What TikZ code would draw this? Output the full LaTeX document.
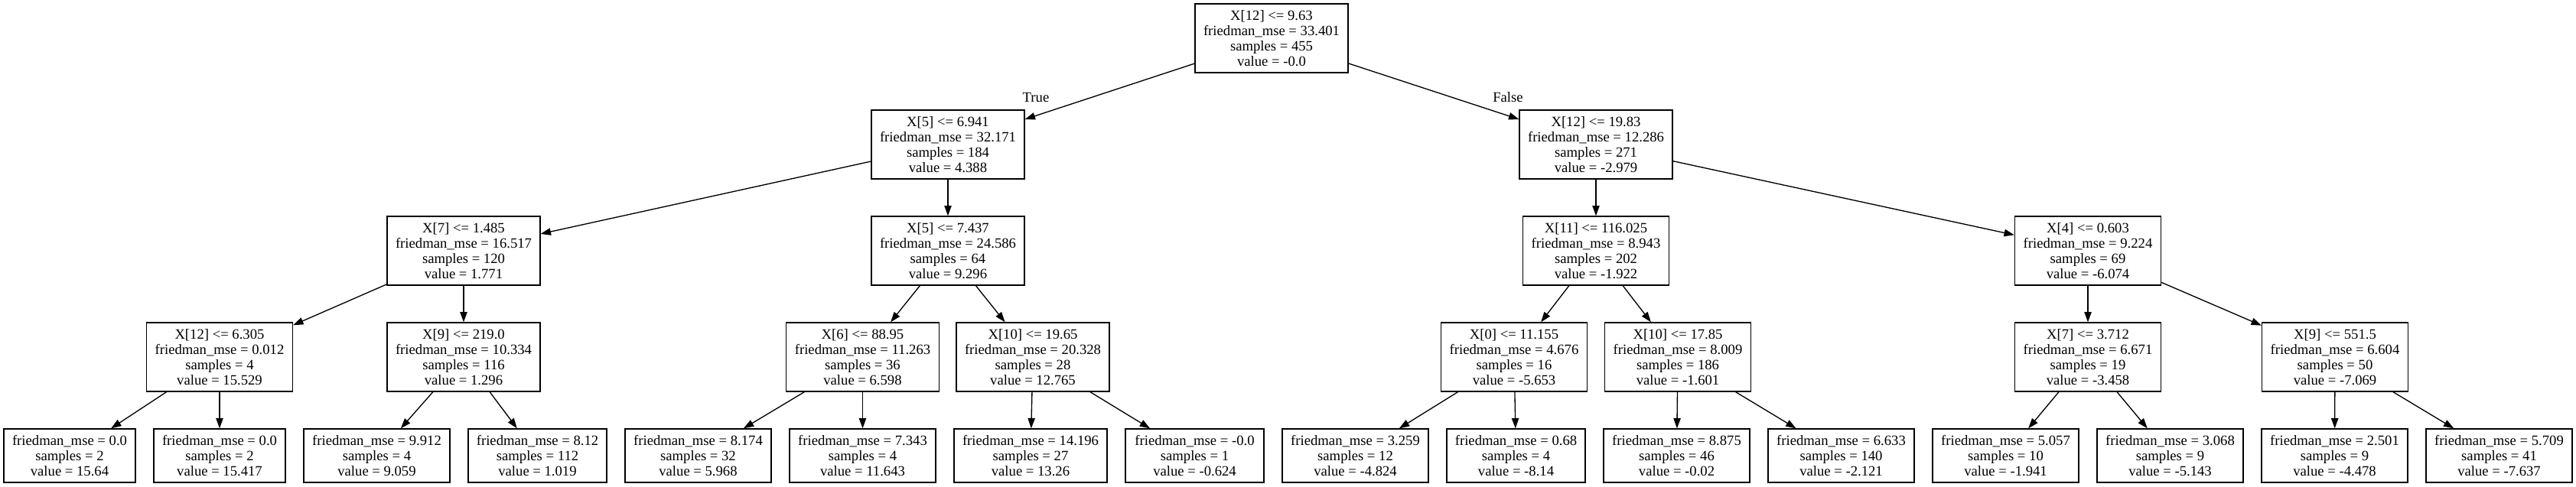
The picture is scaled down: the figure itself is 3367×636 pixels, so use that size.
\documentclass[tikz,border=0pt]{standalone}
\usepackage{fontspec}
\setmainfont{Liberation Serif}
\usetikzlibrary{arrows.meta}

\begin{document}
\begin{tikzpicture}
  [x=0.75pt,y=-0.75pt,line width=1pt,
   every node/.style={font=\fontsize{14pt}{15pt}\selectfont,align=center,inner sep=0pt},
   splitnode/.style={draw=black,fill=white,minimum width=#1,minimum height=67.5pt},
   leafnode/.style={draw=black,fill=white,minimum width=#1,minimum height=52.5pt}]
  \fill[white] (0,0) rectangle (3367,636);

  % root and first split
  \node[splitnode=150pt] (n0) at (1662,50) {X[12] <= 9.63\\friedman\_mse = 33.401\\samples = 455\\value = -0.0};
  \node[splitnode=150pt] (n1) at (1239,189) {X[5] <= 6.941\\friedman\_mse = 32.171\\samples = 184\\value = 4.388};
  \node[splitnode=150pt] (n16) at (2086,189) {X[12] <= 19.83\\friedman\_mse = 12.286\\samples = 271\\value = -2.979};
  \node (t) at (1354,127) {True};
  \node (f) at (1971,127) {False};

  % left half
  \node[splitnode=150pt] (n2) at (606,328) {X[7] <= 1.485\\friedman\_mse = 16.517\\samples = 120\\value = 1.771};
  \node[splitnode=150pt] (n9) at (1239,328) {X[5] <= 7.437\\friedman\_mse = 24.586\\samples = 64\\value = 9.296};
  \node[splitnode=143.25pt] (n3) at (287,467) {X[12] <= 6.305\\friedman\_mse = 0.012\\samples = 4\\value = 15.529};
  \node[splitnode=150pt] (n6) at (606,467) {X[9] <= 219.0\\friedman\_mse = 10.334\\samples = 116\\value = 1.296};
  \node[splitnode=150pt] (n10) at (1127.5,467) {X[6] <= 88.95\\friedman\_mse = 11.263\\samples = 36\\value = 6.598};
  \node[splitnode=150pt] (n13) at (1350,467) {X[10] <= 19.65\\friedman\_mse = 20.328\\samples = 28\\value = 12.765};

  \node[leafnode=129pt] (n4) at (91,596) {friedman\_mse = 0.0\\samples = 2\\value = 15.64};
  \node[leafnode=129pt] (n5) at (287,596) {friedman\_mse = 0.0\\samples = 2\\value = 15.417};
  \node[leafnode=143.25pt] (n7) at (492.5,596) {friedman\_mse = 9.912\\samples = 4\\value = 9.059};
  \node[leafnode=135.75pt] (n8) at (702.5,596) {friedman\_mse = 8.12\\samples = 112\\value = 1.019};
  \node[leafnode=143.25pt] (n11) at (912.5,596) {friedman\_mse = 8.174\\samples = 32\\value = 5.968};
  \node[leafnode=143.25pt] (n12) at (1127.5,596) {friedman\_mse = 7.343\\samples = 4\\value = 11.643};
  \node[leafnode=150pt] (n14) at (1347,596) {friedman\_mse = 14.196\\samples = 27\\value = 13.26};
  \node[leafnode=135.75pt] (n15) at (1561.5,596) {friedman\_mse = -0.0\\samples = 1\\value = -0.624};

  % right half
  \node[splitnode=143.25pt] (n17) at (2086,328) {X[11] <= 116.025\\friedman\_mse = 8.943\\samples = 202\\value = -1.922};
  \node[splitnode=143.25pt] (n24) at (2729,328) {X[4] <= 0.603\\friedman\_mse = 9.224\\samples = 69\\value = -6.074};
  \node[splitnode=143.25pt] (n18) at (1979,467) {X[0] <= 11.155\\friedman\_mse = 4.676\\samples = 16\\value = -5.653};
  \node[splitnode=143.25pt] (n21) at (2193,467) {X[10] <= 17.85\\friedman\_mse = 8.009\\samples = 186\\value = -1.601};
  \node[splitnode=143.25pt] (n25) at (2729,467) {X[7] <= 3.712\\friedman\_mse = 6.671\\samples = 19\\value = -3.458};
  \node[splitnode=143.25pt] (n28) at (3052,467) {X[9] <= 551.5\\friedman\_mse = 6.604\\samples = 50\\value = -7.069};

  \node[leafnode=143.25pt] (n19) at (1771.5,596) {friedman\_mse = 3.259\\samples = 12\\value = -4.824};
  \node[leafnode=135.75pt] (n20) at (1981.5,596) {friedman\_mse = 0.68\\samples = 4\\value = -8.14};
  \node[leafnode=143.25pt] (n22) at (2191.5,596) {friedman\_mse = 8.875\\samples = 46\\value = -0.02};
  \node[leafnode=143.25pt] (n23) at (2406.5,596) {friedman\_mse = 6.633\\samples = 140\\value = -2.121};
  \node[leafnode=143.25pt] (n26) at (2621.5,596) {friedman\_mse = 5.057\\samples = 10\\value = -1.941};
  \node[leafnode=143.25pt] (n27) at (2836.5,596) {friedman\_mse = 3.068\\samples = 9\\value = -5.143};
  \node[leafnode=143.25pt] (n29) at (3051.5,596) {friedman\_mse = 2.501\\samples = 9\\value = -4.478};
  \node[leafnode=143.25pt] (n30) at (3266.5,596) {friedman\_mse = 5.709\\samples = 41\\value = -7.637};

  \foreach \from/\to in {n0/n1,n0/n16,n1/n2,n1/n9,n2/n3,n2/n6,n3/n4,n3/n5,n6/n7,n6/n8,
      n9/n10,n9/n13,n10/n11,n10/n12,n13/n14,n13/n15,n16/n17,n16/n24,n17/n18,n17/n21,
      n18/n19,n18/n20,n21/n22,n21/n23,n24/n25,n24/n28,n25/n26,n25/n27,n28/n29,n28/n30}
    \draw[-{Triangle[length=10pt,width=7pt]}] (\from) -- (\to);

\end{tikzpicture}
\end{document}
